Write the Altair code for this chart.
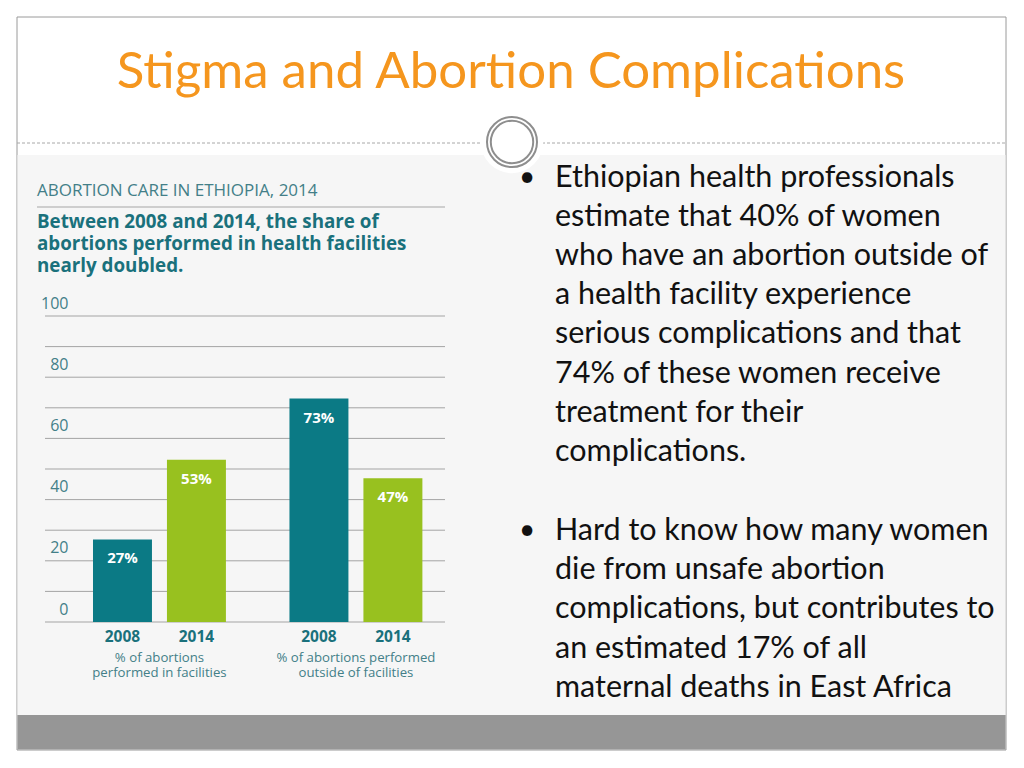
import altair as alt
import pandas as pd

# ---- data ----
groups = ["% of abortions|performed in facilities",
          "% of abortions|performed in facilities",
          "% of abortions performed|outside of facilities",
          "% of abortions performed|outside of facilities"]
years = ["2008", "2014", "2008", "2014"]
shares = [27, 53, 73, 47]
share_labels = ["27%", "53%", "73%", "47%"]
y_ticks = [0, 10, 20, 30, 40, 50, 60, 70, 80, 90, 100]

slide_title = "Stigma and Abortion Complications"
chart_kicker = "ABORTION CARE IN ETHIOPIA, 2014"
chart_headline = ["Between 2008 and 2014, the share of",
                  "abortions performed in health facilities",
                  "nearly doubled."]
bullet_1 = ["Ethiopian health professionals",
            "estimate that 40% of women",
            "who have an abortion outside of",
            "a health facility experience",
            "serious complications and that",
            "74% of these women receive",
            "treatment for their",
            "complications."]
bullet_2 = ["Hard to know how many women",
            "die from unsafe abortion",
            "complications, but contributes to",
            "an  estimated 17% of all",
            "maternal deaths in East Africa"]

TEAL = "#0b7a85"
GREEN = "#98c11f"
ORANGE = "#f5961e"
HEAD_TEAL = "#1a717c"
SOFT_TEAL = "#437f88"
CHART_FONT = "Open Sans"
SLIDE_FONT = "Lato"

df = pd.DataFrame({"group": groups, "year": years, "share": shares, "label": share_labels})
ticks_df = pd.DataFrame({"share": y_ticks})
one = alt.Data(values=[{}])

# ---- decorations (slide) ----
frame = alt.Chart(one).mark_rect(fill="white", stroke="#9a9a9a", strokeWidth=1).encode(
    x=alt.value(-28), x2=alt.value(961), y=alt.value(-299), y2=alt.value(434))
panel = alt.Chart(one).mark_rect(fill="#f6f6f6").encode(
    x=alt.value(-27.5), x2=alt.value(960.5), y=alt.value(-161), y2=alt.value(399))
footer = alt.Chart(one).mark_rect(fill="#969696").encode(
    x=alt.value(-27.5), x2=alt.value(960.5), y=alt.value(399), y2=alt.value(433.5))
dash = alt.Chart(one).mark_rule(color="#a8a8a8", strokeDash=[3, 2], strokeWidth=1).encode(
    x=alt.value(-28), x2=alt.value(961), y=alt.value(-173))
halo = alt.Chart(one).mark_point(shape="circle", filled=True, fill="white", opacity=1, strokeWidth=0).encode(
    x=alt.value(467), y=alt.value(-174), size=alt.value(3900))
ring_out = alt.Chart(one).mark_point(shape="circle", filled=False, stroke="#8e8e8e", strokeWidth=2, opacity=1).encode(
    x=alt.value(467), y=alt.value(-174), size=alt.value(2500))
ring_in = alt.Chart(one).mark_point(shape="circle", filled=False, stroke="#8e8e8e", strokeWidth=2, opacity=1).encode(
    x=alt.value(467), y=alt.value(-174), size=alt.value(1800))

title = alt.Chart(one).mark_text(font=SLIDE_FONT, fontSize=51, color=ORANGE, align="center",
                                 baseline="middle").encode(
    x=alt.value(466), y=alt.value(-243), text=alt.value(slide_title))

kicker = alt.Chart(one).mark_text(font=CHART_FONT, fontSize=17, color=SOFT_TEAL, align="left",
                                  baseline="middle").encode(
    x=alt.value(-8), y=alt.value(-125), text=alt.value(chart_kicker))
kicker_rule = alt.Chart(one).mark_rule(color="#a6a6a6", strokeWidth=1).encode(
    x=alt.value(-8), x2=alt.value(400), y=alt.value(-109))
headline = alt.Chart(one).mark_text(font=CHART_FONT, fontSize=18.8, fontWeight="bold", color=HEAD_TEAL,
                                    align="left", baseline="middle", lineHeight=22).encode(
    x=alt.value(-8), y=alt.value(-94), text=alt.value(chart_headline))

b1 = alt.Chart(one).mark_text(font=SLIDE_FONT, fontSize=30.5, color="#111111", align="left",
                              baseline="middle", lineHeight=39.1).encode(
    x=alt.value(510), y=alt.value(-138), text=alt.value(bullet_1))
b2 = alt.Chart(one).mark_text(font=SLIDE_FONT, fontSize=30.5, color="#111111", align="left",
                              baseline="middle", lineHeight=39.2).encode(
    x=alt.value(510), y=alt.value(215), text=alt.value(bullet_2))
dot1 = alt.Chart(one).mark_text(font=SLIDE_FONT, fontSize=28, color="#111111", align="center",
                                baseline="middle").encode(
    x=alt.value(482), y=alt.value(-138), text=alt.value("•"))
dot2 = alt.Chart(one).mark_text(font=SLIDE_FONT, fontSize=28, color="#111111", align="center",
                                baseline="middle").encode(
    x=alt.value(482), y=alt.value(215), text=alt.value("•"))

# ---- bar chart ----
y_scale = alt.Scale(domain=[0, 100], nice=False)
y_axis = alt.Axis(title=None, domain=False, ticks=False, grid=False, values=y_ticks,
                  zindex=1,
                  labelExpr="datum.value % 20 == 0 ? datum.label : ''",
                  labelFont=CHART_FONT, labelFontSize=16, labelColor=SOFT_TEAL,
                  labelAlign="right", labelBaseline="middle", labelOffset=-13,
                  labelPadding=-23)

grid = alt.Chart(ticks_df).mark_rule(color="#a4a4a4", strokeWidth=1).encode(
    y=alt.Y("share:Q", scale=y_scale, axis=y_axis),
    x=alt.value(0), x2=alt.value(400))

x_enc = alt.X("group:N", sort=None,
              scale=alt.Scale(paddingInner=0.186, paddingOuter=0.111, align=0.791),
              axis=alt.Axis(title=None, domain=False, ticks=False, grid=False, zindex=1,
                            labelExpr="split(datum.label, '|')", labelFont=CHART_FONT,
                            labelFontSize=13.2, labelColor=SOFT_TEAL, labelLineHeight=15.3,
                            labelBaseline="top", labelPadding=29, labelAngle=0))
xo_enc = alt.XOffset("year:N", sort=None,
                     scale=alt.Scale(paddingInner=0.2027, paddingOuter=0.1825))
y_enc = alt.Y("share:Q", scale=y_scale, axis=y_axis)

bars = alt.Chart(df).mark_bar().encode(
    x=x_enc, xOffset=xo_enc, y=y_enc,
    color=alt.Color("year:N", scale=alt.Scale(domain=["2008", "2014"], range=[TEAL, GREEN]), legend=None))

bar_labels = alt.Chart(df).mark_text(font=CHART_FONT, fontSize=15, fontWeight="bold", color="white",
                                     baseline="middle", dy=19).encode(
    x=alt.X("group:N", sort=None), xOffset=alt.XOffset("year:N", sort=None),
    y=alt.Y("share:Q"), text="label:N")

year_labels = alt.Chart(df).mark_text(font=CHART_FONT, fontSize=15.5, fontWeight="bold", color=HEAD_TEAL,
                                      baseline="middle").encode(
    x=alt.X("group:N", sort=None), xOffset=alt.XOffset("year:N", sort=None),
    y=alt.value(321), text="year:N")

chart = alt.layer(
    frame, panel, footer, dash, halo, ring_out, ring_in, title,
    kicker, kicker_rule, headline,
    grid, bars, bar_labels, year_labels,
    dot1, dot2, b1, b2,
).properties(
    width=400, height=306,
    padding={"left": 37, "top": 308, "right": 571, "bottom": 138},
    autosize=alt.AutoSizeParams(type="none"),
).configure_view(stroke=None).configure(background="white")

chart.save("out.html", embed_options={"renderer": "svg", "actions": False})
